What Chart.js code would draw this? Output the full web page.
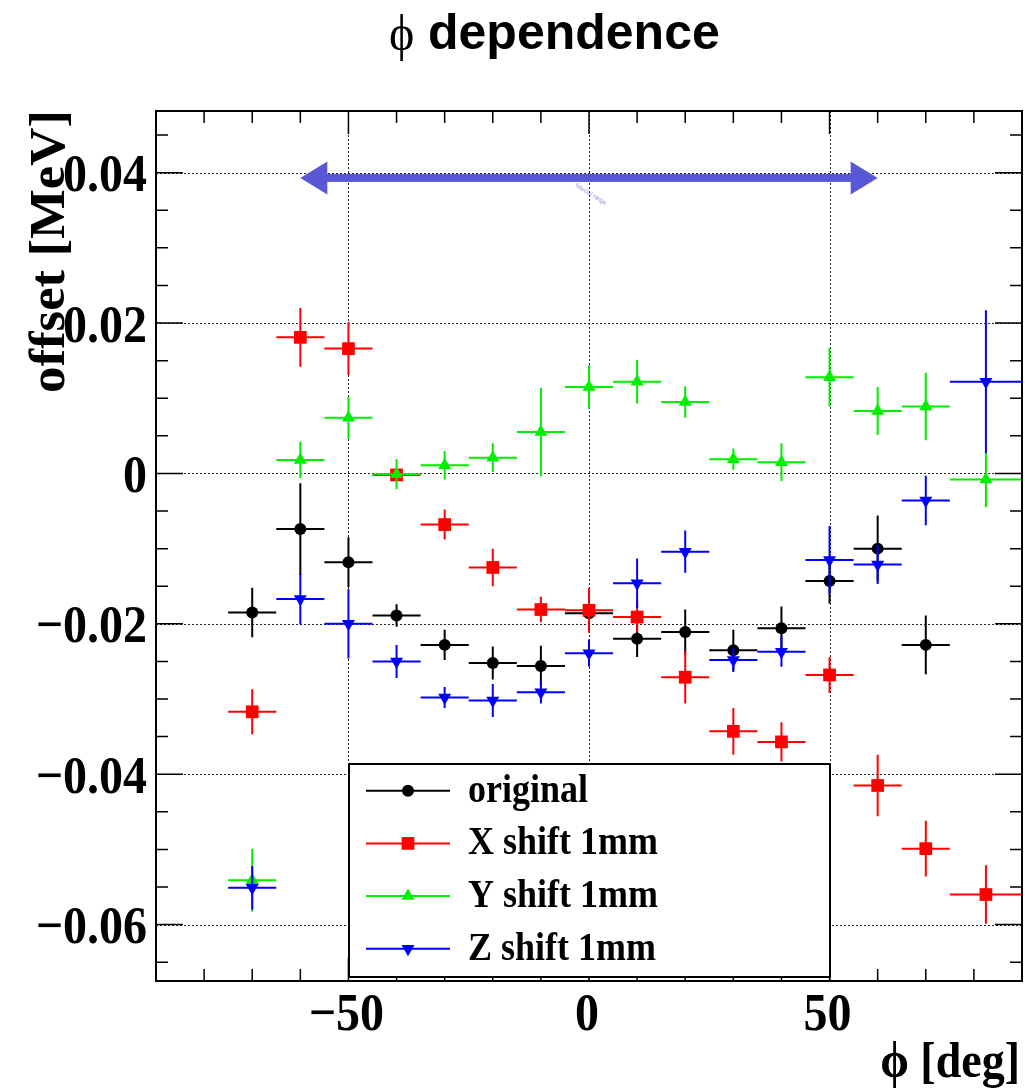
<!DOCTYPE html>
<html>
<head>
<meta charset="utf-8">
<script src="https://cdn.jsdelivr.net/npm/chart.js@4/dist/chart.umd.min.js"></script>
<style>
body{margin:0;background:#fff}
canvas{display:block}
</style>
</head>
<body>
<canvas id="chart" width="1025" height="1092"></canvas>
<script>
// phi bins (centre and half width, deg)
const phiBins=[-70,-60,-50,-40,-30,-20,-10,0,10,20,30,40,50,60,70,82.5]
const phiHalf=[5,5,5,5,5,5,5,5,5,5,5,5,5,5,5,7.5]

// offsets [MeV] and their errors
const original=[-0.0185,-0.0074,-0.0118,-0.0189,-0.0228,-0.0252,-0.0256,-0.0186,-0.0220,-0.0211,-0.0235,-0.0206,-0.0143,-0.0100,-0.0228]
const originalErr=[0.0033,0.0061,0.0033,0.0015,0.0020,0.0022,0.0027,0.0016,0.0024,0.0030,0.0027,0.0029,0.0030,0.0044,0.0039]

const xShift=[-0.0317,0.0181,0.0166,-0.0002,-0.0068,-0.0125,-0.0181,-0.0182,-0.0191,-0.0271,-0.0343,-0.0357,-0.0268,-0.0415,-0.0499,-0.0560]
const xShiftErr=[0.0030,0.0039,0.0035,0.0008,0.0020,0.0025,0.0017,0.0030,0.0020,0.0035,0.0031,0.0026,0.0024,0.0041,0.0037,0.0039]

const yShift=[-0.0541,0.0018,0.0074,-0.0001,0.0011,0.0021,0.0055,0.0115,0.0122,0.0095,0.0019,0.0015,0.0128,0.0083,0.0089,-0.0008]
const yShiftErr=[0.0042,0.0024,0.0028,0.0020,0.0019,0.0019,0.0059,0.0029,0.0029,0.0021,0.0014,0.0025,0.0039,0.0032,0.0045,0.0037]

const zShift=[-0.0551,-0.0167,-0.0200,-0.0250,-0.0298,-0.0302,-0.0291,-0.0239,-0.0146,-0.0104,-0.0248,-0.0237,-0.0115,-0.0121,-0.0036,0.0122]
const zShiftErr=[0.0029,0.0034,0.0046,0.0022,0.0014,0.0022,0.0015,0.0018,0.0033,0.0028,0.0016,0.0020,0.0045,0.0026,0.0033,0.0095]

const seriesNames=["original","X shift 1mm","Y shift 1mm","Z shift 1mm"]

// axes
const xTicks=[-50,0,50]
const xTickLabels=["\u221250","0","50"]
const yTicks=[-0.06,-0.04,-0.02,0,0.02,0.04]
const yTickLabels=["\u22120.06","\u22120.04","\u22120.02","0","0.02","0.04"]

// phi range arrow
const arrowPhi=[-60,60]
const arrowOffset=0.0393

const serif="'Liberation Serif','Times New Roman',serif"
const sans="'Liberation Sans',Arial,sans-serif"

function points(vals,errs){
return vals.map((v,i)=>({x:phiBins[i],y:v,ex:phiHalf[i],ey:errs[i]}))
}

function txt(ctx,s,x,y,font,align,sy){
ctx.save()
ctx.font=font
ctx.textAlign=align
ctx.textBaseline="alphabetic"
ctx.translate(x,y)
ctx.scale(1,sy)
ctx.fillText(s,0,0)
ctx.restore()
}

const errorBars={
id:"errorBars",
beforeDatasetDraw(chart,args){
let ds=chart.data.datasets[args.index]
let xs=chart.scales.x,ys=chart.scales.y
let ctx=chart.ctx,a=chart.chartArea
ctx.save()
ctx.beginPath()
ctx.rect(a.left,a.top,a.right-a.left,a.bottom-a.top)
ctx.clip()
ctx.strokeStyle=ds.borderColor
ctx.lineWidth=2
ds.data.forEach(p=>{
let px=xs.getPixelForValue(p.x),py=ys.getPixelForValue(p.y)
ctx.beginPath()
ctx.moveTo(xs.getPixelForValue(p.x-p.ex),py)
ctx.lineTo(xs.getPixelForValue(p.x+p.ex),py)
ctx.moveTo(px,ys.getPixelForValue(p.y-p.ey))
ctx.lineTo(px,ys.getPixelForValue(p.y+p.ey))
ctx.stroke()
})
ctx.restore()
}
}

const frame={
id:"frame",
beforeDraw(chart){
let ctx=chart.ctx
ctx.save()
ctx.fillStyle="#fff"
ctx.fillRect(0,0,chart.width,chart.height)
ctx.restore()
},
beforeDatasetsDraw(chart){
// dotted grid at the labelled ticks
let ctx=chart.ctx,a=chart.chartArea
let xs=chart.scales.x,ys=chart.scales.y
ctx.save()
ctx.strokeStyle="#222"
ctx.lineWidth=1
ctx.setLineDash([2,2])
ctx.beginPath()
xTicks.forEach(v=>{
let px=Math.round(xs.getPixelForValue(v))+0.5
ctx.moveTo(px,a.top);ctx.lineTo(px,a.bottom)
})
yTicks.forEach(v=>{
let py=Math.round(ys.getPixelForValue(v))+0.5
ctx.moveTo(a.left,py);ctx.lineTo(a.right,py)
})
ctx.stroke()
ctx.restore()
},
afterDraw(chart){
let ctx=chart.ctx,a=chart.chartArea
let xs=chart.scales.x,ys=chart.scales.y

// ticks on all four sides
ctx.save()
ctx.strokeStyle="#000"
ctx.lineWidth=1.5
ctx.beginPath()
for(let v=-80;v<=80;v+=10){
let px=xs.getPixelForValue(v)
let len=(v%50===0)?23:12
ctx.moveTo(px,a.bottom);ctx.lineTo(px,a.bottom-len)
ctx.moveTo(px,a.top);ctx.lineTo(px,a.top+len)
}
for(let k=-13;k<=9;k++){
let v=k*0.005
let py=ys.getPixelForValue(v)
let len=(k%4===0)?27:12
ctx.moveTo(a.left,py);ctx.lineTo(a.left+len,py)
ctx.moveTo(a.right,py);ctx.lineTo(a.right-len,py)
}
ctx.stroke()
ctx.lineWidth=2
ctx.strokeRect(a.left,a.top,a.right-a.left,a.bottom-a.top)
ctx.restore()

// double arrow over the phi range
let x0=xs.getPixelForValue(arrowPhi[0]),x1=xs.getPixelForValue(arrowPhi[1])
let ya=ys.getPixelForValue(arrowOffset)
ctx.save()
ctx.fillStyle="#5858d6"
ctx.fillRect(x0+20,ya-4,x1-x0-40,8)
ctx.beginPath()
ctx.moveTo(x0,ya);ctx.lineTo(x0+27,ya-16.5);ctx.lineTo(x0+27,ya+16.5);ctx.closePath()
ctx.moveTo(x1,ya);ctx.lineTo(x1-27,ya-16.5);ctx.lineTo(x1-27,ya+16.5);ctx.closePath()
ctx.fill()
ctx.translate(xs.getPixelForValue(-2.5),ya+5)
ctx.rotate(0.55)
ctx.fillStyle="rgba(90,90,214,0.7)"
ctx.font="6px "+sans
ctx.fillText("fiducial range",0,4)
ctx.restore()

// legend
let lx=349,ly=764,lw=481,lh=213
ctx.save()
ctx.fillStyle="#fff"
ctx.fillRect(lx,ly,lw,lh)
ctx.strokeStyle="#000"
ctx.lineWidth=2
ctx.strokeRect(lx,ly,lw,lh)
chart.data.datasets.forEach((ds,i)=>{
let ry=790.7+i*52.7
ctx.strokeStyle=ds.borderColor
ctx.lineWidth=2
ctx.beginPath()
ctx.moveTo(366,ry);ctx.lineTo(450,ry)
ctx.stroke()
ctx.fillStyle=ds.backgroundColor
Chart.helpers.drawPoint(ctx,{pointStyle:ds.pointStyle,rotation:ds.rotation||0,radius:ds.pointRadius,borderWidth:0},408,ry)
ctx.fillStyle="#000"
txt(ctx,seriesNames[i],468,ry+11,"bold 36px "+serif,"left",1.1)
})
ctx.restore()

// tick labels and titles
ctx.save()
ctx.fillStyle="#000"
yTicks.forEach((v,i)=>{
txt(ctx,yTickLabels[i],147,ys.getPixelForValue(v)+18.5,"bold 48px "+serif,"right",1.1)
})
xTicks.forEach((v,i)=>{
txt(ctx,xTickLabels[i],xs.getPixelForValue(v)-2,1030,"bold 48px "+serif,"center",1.1)
})
txt(ctx,"\u03d5 [deg]",1020,1077,"bold 46px "+serif,"right",1.1)
txt(ctx,"\u03d5",389,50,"48px "+serif,"left",1.05)
txt(ctx,"dependence",428,49,"bold 50px "+sans,"left",1.0)
ctx.translate(64,251.5)
ctx.rotate(-Math.PI/2)
ctx.scale(1.1,1.05)
ctx.font="bold 48px "+serif
ctx.textAlign="center"
ctx.textBaseline="alphabetic"
ctx.fillText("offset [MeV]",0,0)
ctx.restore()
}
}

const chart=new Chart(document.getElementById("chart"),{
type:"scatter",
data:{
datasets:[
{label:seriesNames[0],data:points(original,originalErr),borderColor:"#000000",backgroundColor:"#000000",pointStyle:"circle",pointRadius:6,pointBorderWidth:0,order:3},
{label:seriesNames[1],data:points(xShift,xShiftErr),borderColor:"#ff0000",backgroundColor:"#ff0000",pointStyle:"rect",pointRadius:9,pointBorderWidth:0,order:2},
{label:seriesNames[2],data:points(yShift,yShiftErr),borderColor:"#00ee00",backgroundColor:"#00ee00",pointStyle:"triangle",pointRadius:7.5,pointBorderWidth:0,order:1},
{label:seriesNames[3],data:points(zShift,zShiftErr),borderColor:"#0000ff",backgroundColor:"#0000ff",pointStyle:"triangle",rotation:180,pointRadius:7.5,pointRotation:180,pointBorderWidth:0,order:0}
]
},
options:{
responsive:false,
devicePixelRatio:1,
animation:false,
events:[],
layout:{autoPadding:false,padding:{left:156,top:111,right:3,bottom:111}},
plugins:{legend:{display:false},tooltip:{enabled:false}},
scales:{
x:{type:"linear",min:-90,max:90,display:false},
y:{type:"linear",min:-0.0675,max:0.0482,display:false}
}
},
plugins:[frame,errorBars]
})
</script>
</body>
</html>
